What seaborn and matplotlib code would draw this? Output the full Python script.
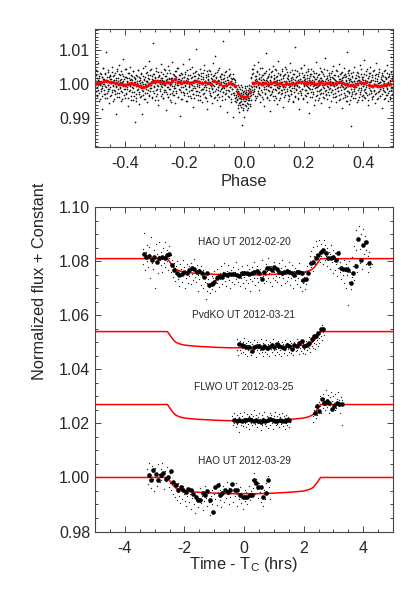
import matplotlib
matplotlib.use("Agg")
import matplotlib.pyplot as plt
import numpy as np
import pandas as pd
import seaborn as sns
from matplotlib.ticker import MultipleLocator, FixedLocator

# ---------------- data ----------------
# top panel: individual points, (phase x 1000, (flux - 1) x 1e4)
top_dots = [
(-500,14),(-499,-22),(-497,41),(-496,3),(-494,-35),(-493,18),(-492,-7),(-490,62),(-489,-15),(-487,26),
(-486,-48),(-485,9),(-483,-3),(-482,33),(-480,-19),(-479,5),(-478,-71),(-476,22),(-475,-11),(-473,47),
(-472,0),(-471,-28),(-469,15),(-468,-40),(-466,31),(-465,-6),(-464,12),(-462,95),(-461,-24),(-459,8),
(-458,37),(-457,-13),(-455,-2),(-454,21),(-452,-55),(-451,16),(-450,-9),(-448,29),(-447,4),(-445,-31),
(-444,52),(-443,-17),(-441,11),(-440,-1),(-438,24),(-437,-44),(-436,7),(-434,-20),(-433,35),(-431,-86),
(-430,13),(-429,-5),(-427,40),(-426,-26),(-424,2),(-423,19),(-422,-12),(-420,58),(-419,-37),(-417,6),
(-416,27),(-415,-8),(-413,-50),(-412,17),(-410,-3),(-409,31),(-408,-23),(-406,10),(-405,74),(-403,-14),
(-402,1),(-401,-41),(-399,23),(-398,-6),(-396,45),(-395,-29),(-394,8),(-392,-12),(-391,20),(-389,-63),
(-388,3),(-387,34),(-385,-18),(-384,12),(-382,-4),(-381,51),(-380,-33),(-378,15),(-377,-9),(-375,26),
(-374,-2),(-373,-47),(-371,38),(-370,7),(-368,-21),(-367,-110),(-366,18),(-364,-5),(-363,29),(-361,-39),
(-360,9),(-359,-16),(-357,43),(-356,-1),(-354,-27),(-353,21),(-352,-58),(-350,4),(-349,14),(-347,-11),
(-346,33),(-345,-35),(-343,-88),(-342,6),(-340,25),(-339,-19),(-338,2),(-336,-43),(-335,17),(-333,-7),
(-332,55),(-331,-24),(-329,11),(-328,-3),(-326,36),(-325,-51),(-324,8),(-322,19),(-321,-15),(-319,70),
(-318,-30),(-317,5),(-315,27),(-314,-10),(-312,44),(-311,-2),(-310,-37),(-308,16),(-307,122),(-305,-20),
(-304,9),(-303,31),(-301,-6),(-300,-45),(-298,22),(-297,3),(-296,-17),(-294,48),(-293,-28),(-291,12),
(-290,-4),(-289,37),(-287,-60),(-286,7),(-284,26),(-283,-12),(-282,1),(-280,-33),(-279,19),(-277,59),
(-276,-9),(-275,14),(-273,-41),(-272,30),(-270,-1),(-269,-22),(-268,10),(-266,41),(-265,-16),(-263,-75),
(-262,24),(-261,4),(-259,-29),(-258,15),(-256,-8),(-255,53),(-254,-36),(-252,6),(-251,20),(-249,-13),
(-248,34),(-247,-47),(-245,2),(-244,18),(-242,-24),(-241,65),(-240,-5),(-238,12),(-237,-31),(-235,27),
(-234,-10),(-233,40),(-231,-55),(-230,8),(-228,22),(-227,-18),(-226,3),(-224,47),(-223,-38),(-221,15),
(-220,-2),(-219,28),(-217,-14),(-216,-92),(-214,10),(-213,35),(-212,-21),(-210,5),(-209,-44),(-207,19),
(-206,61),(-205,-7),(-203,23),(-202,-26),(-200,9),(-199,-3),(-198,32),(-196,-49),(-195,13),(-193,-12),
(-192,42),(-191,4),(-189,-34),(-188,17),(-186,-6),(-185,76),(-184,-19),(-182,8),(-181,29),(-179,-40),
(-178,1),(-177,20),(-175,-15),(-174,51),(-172,-27),(-171,7),(-170,-66),(-168,25),(-167,-4),(-165,36),
(-164,-11),(-163,14),(-161,-30),(-160,104),(-158,2),(-157,-20),(-156,18),(-154,-45),(-153,31),(-151,-8),
(-150,11),(-149,-35),(-147,46),(-146,6),(-144,-16),(-143,24),(-142,-52),(-140,0),(-139,33),(-137,-13),
(-136,15),(-135,-25),(-133,57),(-132,-3),(-130,9),(-129,-41),(-128,21),(-126,-9),(-125,38),(-123,-71),
(-122,12),(-121,26),(-119,-18),(-118,4),(-116,43),(-115,-30),(-114,7),(-112,-2),(-111,30),(-109,-56),
(-108,17),(-107,-11),(-105,64),(-104,-23),(-102,10),(-101,-5),(-100,28),(-98,-36),(-97,85),(-95,1),
(-94,-14),(-93,19),(-91,-47),(-90,36),(-88,-7),(-87,13),(-86,-28),(-84,49),(-83,-1),(-81,-19),
(-80,22),(-79,-62),(-77,6),(-76,31),(-74,-10),(-73,-33),(-72,16),(-70,127),(-69,-22),(-67,3),
(-66,27),(-65,-44),(-63,11),(-62,-6),(-60,38),(-59,-26),(-58,-80),(-56,14),(-55,0),(-53,-17),
(-52,24),(-51,-38),(-49,45),(-48,-9),(-46,8),(-45,-29),(-44,19),(-42,-51),(-41,5),(-39,-13),
(-38,30),(-37,-97),(-35,2),(-34,-24),(-32,17),(-31,-40),(-30,-8),
(-28,-30),(-27,-5),(-26,-52),(-24,-21),(-23,-44),(-22,-12),(-21,-68),(-20,-33),(-19,-2),(-18,-55),
(-17,-27),(-16,-81),(-15,-39),(-14,-14),(-13,-60),(-12,-31),(-11,-3),(-10,-48),(-9,-24),(-8,-118),
(-7,-36),(-6,-9),(-5,-57),(-4,-29),(-3,-42),(-2,-70),(-1,-18),(0,-35),(1,-95),(2,-26),(3,-50),(4,-11),
(5,-39),(6,-63),(7,-22),(8,-44),(9,-6),(10,-31),(11,-76),(12,-17),(13,-41),(14,-58),(15,-28),(16,-1),
(17,-47),(18,-20),(19,-35),(20,-64),(21,-13),(22,-30),(23,-4),
(25,21),(26,-15),(27,44),(28,6),(30,-27),(31,33),(32,-4),(34,58),(35,-20),(36,13),
(38,-45),(39,25),(40,-8),(42,39),(43,-33),(44,10),(46,-1),(47,66),(48,-24),(50,17),
(51,-11),(52,30),(54,-52),(55,4),(56,21),(58,-17),(59,47),(60,-36),(62,8),(63,-3),
(64,28),(66,-62),(67,14),(68,-9),(70,35),(71,-27),(72,1),(74,92),(75,-14),(76,19),
(78,-41),(79,7),(80,26),(82,-5),(83,-19),(84,44),(86,-30),(87,12),(88,-78),(90,22),
(91,-7),(92,37),(94,-23),(95,3),(96,55),(98,-12),(99,-46),(100,16),(102,29),(103,-2),
(104,-33),(106,10),(107,-15),(108,41),(110,-58),(111,6),(112,24),(114,-10),(115,70),(116,-21),
(118,13),(119,-4),(120,32),(122,-39),(123,8),(124,-17),(126,45),(127,1),(128,-26),(130,18),
(131,-9),(132,-66),(134,27),(135,-13),(136,4),(138,50),(139,-31),(140,11),(142,-2),(143,36),
(144,-20),(146,-48),(147,15),(148,25),(150,-7),(151,-35),(152,9),(154,63),(155,-16),(156,2),
(158,-28),(159,20),(160,-11),(162,42),(163,-53),(164,7),(166,30),(167,-4),(168,-22),(170,14),
(171,109),(172,-37),(174,5),(175,23),(176,-14),(178,-1),(179,38),(180,-44),(182,12),(183,-8),
(184,27),(186,-73),(187,17),(188,-19),(190,3),(191,48),(192,-25),(194,9),(195,-12),(196,34),
(198,-40),(199,6),(200,21),(202,-6),(203,57),(204,-30),(206,15),(207,-2),(208,-17),(210,29),
(211,-51),(212,10),(214,40),(215,-9),(216,-26),(218,18),(219,-85),(220,4),(222,31),(223,-14),
(224,1),(226,44),(227,-36),(228,13),(230,-5),(231,25),(232,-21),(234,-60),(235,8),(236,35),
(238,-11),(239,2),(240,67),(242,-33),(243,16),(244,-7),(246,23),(247,-45),(248,10),(250,-18),
(251,30),(252,-1),(254,49),(255,-29),(256,6),(258,-13),(259,20),(260,-56),(262,14),(263,37),
(264,-8),(266,-24),(267,3),(268,26),(270,-39),(271,11),(272,79),(274,-16),(275,5),(276,-31),
(278,19),(279,-4),(280,42),(282,-22),(283,8),(284,-67),(286,28),(287,-10),(288,15),(290,-2),
(291,33),(292,-48),(294,7),(295,22),(296,-15),(298,54),(299,-27),(300,3),(302,-6),(303,17),
(304,-37),(306,29),(307,-12),(308,10),(310,-53),(311,39),(312,0),(314,-20),(315,24),(316,-9),
(318,61),(319,-32),(320,6),(322,15),(323,-43),(324,-3),(326,34),(327,-17),(328,12),(330,-70),
(331,21),(332,-7),(334,47),(335,-25),(336,4),(338,-38),(339,31),(340,-11),(341,9),(342,-50),
(343,26),(344,-19),(345,95),(346,2),(347,-34),(348,18),(349,-6),(350,40),(351,-58),(352,13),
(353,-23),(354,29),(355,-1),(356,-45),(357,16),(358,-14),(359,35),(360,-122),(361,7),(362,-29),
(364,22),(365,-4),(366,-41),(368,11),(369,50),(370,-18),(372,3),(373,-27),(375,20),(376,-8),
(378,37),(379,-52),(380,9),(382,-15),(383,26),(384,-3),(386,-36),(387,14),(388,58),(390,-21),
(391,5),(392,-10),(394,31),(395,-47),(396,17),(398,-6),(399,23),(400,-30),(402,73),(403,1),
(404,-17),(406,12),(407,-39),(408,27),(410,-2),(411,-24),(412,44),(414,6),(415,-61),(416,18),
(418,-11),(419,33),(420,-28),(422,8),(423,-4),(424,51),(426,-19),(427,14),(428,-43),(430,22),
(431,-7),(432,-33),(434,39),(435,2),(436,-15),(438,27),(439,-56),(440,10),(442,-1),(443,64),
(444,-26),(446,16),(447,-9),(448,-40),(450,30),(451,4),(452,-20),(454,46),(455,-12),(456,7),
(458,-35),(459,21),(460,-3),(462,-68),(463,13),(464,35),(466,-16),(467,1),(468,25),(470,-44),
(471,9),(472,-23),(474,41),(475,-6),(476,18),(478,-30),(479,57),(480,-11),(482,5),(483,-49),
(484,23),(486,-2),(487,32),(488,-19),(490,11),(491,-37),(492,80),(494,-8),(495,15),(496,-27),
(498,26),(499,-14),(500,3),
]
# top panel: more individual points, (phase x 10000, (flux - 1) x 1e4)
top_dots_fine = [
(-4995,-8),(-4981,27),(-4963,-19),(-4948,6),(-4934,39),(-4917,-31),(-4903,12),(-4886,-3),(-4871,-24),(-4855,18),
(-4842,-44),(-4826,4),(-4811,30),(-4794,-12),(-4780,21),(-4763,-6),(-4749,-35),(-4732,15),(-4718,49),(-4701,-17),
(-4688,2),(-4672,-27),(-4657,34),(-4640,-9),(-4626,11),(-4609,-40),(-4595,23),(-4578,-1),(-4564,-20),(-4547,42),
(-4533,8),(-4516,-14),(-4502,26),(-4485,-33),(-4471,5),(-4454,17),(-4440,-22),(-4423,36),(-4409,-4),(-4392,-48),
(-4378,13),(-4361,29),(-4347,-16),(-4330,1),(-4316,-29),(-4299,20),(-4285,-7),(-4268,44),(-4254,-37),(-4237,9),
(-4223,-2),(-4206,31),(-4192,-25),(-4175,14),(-4161,-11),(-4144,3),(-4130,38),(-4113,-19),(-4099,7),(-4082,-42),
(-4068,24),(-4051,-5),(-4037,16),(-4020,-30),(-4006,46),(-3989,-13),(-3975,2),(-3958,21),(-3944,-26),(-3927,10),
(-3913,-8),(-3896,33),(-3882,-39),(-3865,5),(-3851,18),(-3834,-15),(-3820,-3),(-3803,27),(-3789,-46),(-3772,12),
(-3758,-21),(-3741,39),(-3727,0),(-3710,-10),(-3696,22),(-3679,-34),(-3665,8),(-3648,15),(-3634,-28),(-3617,-50),
(-3603,3),(-3586,26),(-3572,-12),(-3555,41),(-3541,-6),(-3524,-23),(-3510,11),(-3493,-38),(-3479,19),(-3462,-2),
(-3448,30),(-3431,-17),(-3417,6),(-3400,-31),(-3386,48),(-3369,-9),(-3355,14),(-3338,-44),(-3324,1),(-3307,23),
(-3293,-14),(-3276,35),(-3262,-26),(-3245,9),(-3231,-4),(-3214,28),(-3200,-35),(-3183,16),(-3169,-1),(-3152,43),
(-3138,-20),(-3121,7),(-3107,-10),(-3090,25),(-3076,-41),(-3059,13),(-3045,32),(-3028,-7),(-3014,-24),(-2997,18),
(-2983,3),(-2966,-33),(-2952,40),(-2935,-12),(-2921,10),(-2904,-2),(-2890,22),(-2873,-47),(-2859,6),(-2842,29),
(-2828,-18),(-2811,14),(-2797,-5),(-2780,37),(-2766,-29),(-2749,2),(-2735,19),(-2718,-39),(-2704,9),(-2687,45),
(-2673,-15),(-2656,-1),(-2642,26),(-2625,-22),(-2611,12),(-2594,-8),(-2580,34),(-2563,-36),(-2549,5),(-2532,17),
(-2518,-13),(-2501,41),(-2487,-3),(-2470,-27),(-2456,15),(-2439,-51),(-2425,20),(-2408,8),(-2394,-18),(-2377,30),
(-2363,-6),(-2346,-32),(-2332,24),(-2315,1),(-2301,-11),(-2284,38),(-2270,-24),(-2253,11),(-2239,-2),(-2222,47),
(-2208,-37),(-2191,7),(-2177,16),(-2160,-16),(-2146,28),(-2129,-8),(-2115,-43),(-2098,13),(-2084,3),(-2067,31),
(-2053,-21),(-2036,9),(-2022,-30),(-2005,22),(-1991,-4),(-1974,36),(-1960,-14),(-1943,4),(-1929,-26),(-1912,19),
(-1898,-48),(-1881,10),(-1867,27),(-1850,-9),(-1836,2),(-1819,-34),(-1805,44),(-1788,-17),(-1774,8),(-1757,21),
(-1743,-2),(-1726,-28),(-1712,33),(-1695,-11),(-1681,14),(-1664,-40),(-1650,6),(-1633,25),(-1619,-19),(-1602,39),
(-1588,-5),(-1571,12),(-1557,-31),(-1540,18),(-1526,-1),(-1509,29),(-1495,-23),(-1478,3),(-1464,-45),(-1447,16),
(-1433,34),(-1416,-12),(-1402,7),(-1385,-27),(-1371,23),(-1354,-7),(-1340,41),(-1323,-36),(-1309,10),(-1292,-3),
(-1278,27),(-1261,-16),(-1247,2),(-1230,-50),(-1216,15),(-1199,31),(-1185,-10),(-1168,6),(-1154,-25),(-1137,38),
(-1123,-4),(-1106,19),(-1092,-33),(-1075,9),(-1061,-14),(-1044,26),(-1030,-2),(-1013,-41),(-999,13),(-982,35),
(-968,-20),(-951,4),(-937,21),(-920,-30),(-906,8),(-889,-7),(-875,43),(-858,-17),(-844,11),(-827,-37),
(-813,1),(-796,24),(-782,-12),(-765,16),(-751,-46),(-734,30),(-720,-5),(-703,7),(-689,-23),(-672,18),
(-658,-10),(-641,36),(-627,-29),(-610,3),(-596,-15),(-579,22),(-565,-1),(-548,-35),(-534,12),(-517,28),
(-503,-19),(-486,5),(-472,-8),(-455,32),(-441,-42),(-424,9),(-410,17),(-393,-13),(-379,-26),(-362,20),
(-348,-3),(-331,-31),(-317,14),(-300,-48),(-286,6),(-269,-20),
(-255,-38),(-241,-12),(-227,-46),(-213,-27),(-199,-60),(-185,-20),(-171,-41),(-157,-8),(-143,-53),(-129,-30),
(-115,-66),(-101,-25),(-87,-44),(-73,-15),(-59,-58),(-45,-33),(-31,-76),(-17,-22),(-3,-49),(11,-36),
(25,-4),(39,-61),(53,-28),(67,-43),(81,-17),(95,-55),(109,-34),(123,-70),(137,-24),(151,-47),
(165,-11),(179,-39),(193,-57),(207,-26),(221,-45),
(245,18),(259,-9),(274,31),(288,-22),(303,7),(317,44),(332,-14),(346,2),(361,-33),(375,24),
(390,-5),(404,15),(419,-40),(433,10),(448,36),(462,-18),(477,1),(491,-27),(506,20),(520,-8),
(535,47),(549,-30),(564,12),(578,-3),(593,27),(607,-21),(622,6),(636,-44),(651,17),(665,33),
(680,-12),(694,3),(709,-25),(723,40),(738,-6),(752,14),(767,-36),(781,9),(796,22),(810,-16),
(825,-1),(839,30),(854,-47),(868,11),(883,-9),(897,25),(912,-28),(926,4),(941,38),(955,-19),
(970,8),(984,-33),(999,19),(1013,-2),(1028,45),(1042,-14),(1057,6),(1071,-39),(1086,23),(1100,-7),
(1115,13),(1129,-24),(1144,34),(1158,-11),(1173,1),(1187,-45),(1202,28),(1216,-4),(1231,16),(1245,-29),
(1260,39),(1274,-16),(1289,7),(1303,-2),(1318,24),(1332,-37),(1347,10),(1361,-9),(1376,31),(1390,-22),
(1405,4),(1419,46),(1434,-13),(1448,18),(1463,-31),(1477,2),(1492,27),(1506,-42),(1521,9),(1535,-6),
(1550,36),(1564,-19),(1579,12),(1593,-27),(1608,21),(1622,-1),(1637,-48),(1651,15),(1666,30),(1680,-10),
(1695,5),(1709,-34),(1724,42),(1738,-15),(1753,8),(1767,-4),(1782,26),(1796,-25),(1811,11),(1825,-39),
(1840,33),(1854,-7),(1869,17),(1883,-20),(1898,3),(1912,48),(1927,-30),(1941,6),(1956,-12),(1970,22),
(1985,-44),(1999,14),(2014,-2),(2028,29),(2043,-17),(2057,9),(2072,-33),(2086,37),(2101,-5),(2115,19),
(2130,-26),(2144,1),(2159,44),(2173,-11),(2188,12),(2202,-38),(2217,25),(2231,-3),(2246,-21),(2260,31),
(2275,7),(2289,-14),(2304,40),(2318,-29),(2333,10),(2347,-1),(2362,23),(2376,-47),(2391,16),(2405,-8),
(2420,35),(2434,-18),(2449,4),(2463,-31),(2478,27),(2492,-6),(2507,13),(2521,-41),(2536,20),(2550,2),
(2565,-15),(2579,38),(2594,-24),(2608,8),(2623,-3),(2637,30),(2652,-36),(2666,11),(2681,-10),(2695,46),
(2710,-20),(2724,5),(2739,17),(2753,-28),(2768,1),(2782,24),(2797,-44),(2811,14),(2826,-7),(2840,33),
(2855,-13),(2869,-32),(2884,9),(2898,21),(2913,-2),(2927,-23),(2942,39),(2956,-16),(2971,6),(2985,-37),
(3000,18),(3014,-5),(3029,28),(3043,-25),(3058,12),(3072,-1),(3087,43),(3101,-34),(3116,7),(3130,-11),
(3145,25),(3159,-19),(3174,3),(3188,-46),(3203,15),(3217,31),(3232,-8),(3246,10),(3261,-27),(3275,36),
(3290,-4),(3304,19),(3319,-39),(3333,8),(3348,-14),(3362,27),(3377,-2),(3391,-30),(3406,22),(3420,-9),
(3435,13),(3449,-50),(3464,4),(3478,33),(3493,-18),(3507,6),(3522,-26),(3536,41),(3551,-6),(3565,15),
(3580,-35),(3594,10),(3609,-3),(3623,25),(3638,-22),(3652,2),(3667,37),(3681,-13),(3696,9),(3710,-40),
(3725,18),(3739,-7),(3754,29),(3768,-24),(3783,4),(3797,-1),(3812,34),(3826,-45),(3841,12),(3855,-10),
(3870,21),(3884,-28),(3899,7),(3913,44),(3928,-15),(3942,1),(3957,-33),(3971,23),(3986,-5),(4000,14),
(4015,-38),(4029,30),(4044,-12),(4058,3),(4073,-21),(4087,39),(4102,-8),(4116,11),(4131,-30),(4145,19),
(4160,-2),(4174,-47),(4189,26),(4203,6),(4218,-16),(4232,35),(4247,-25),(4261,9),(4276,-4),(4290,28),
(4305,-36),(4319,13),(4334,-9),(4348,42),(4363,-19),(4377,2),(4392,-29),(4406,20),(4421,-6),(4435,32),
(4450,-43),(4464,10),(4479,-1),(4493,24),(4508,-23),(4522,5),(4537,37),(4551,-14),(4566,8),(4580,-34),
(4595,17),(4609,-3),(4624,29),(4638,-27),(4653,11),(4667,-10),(4682,40),(4696,-20),(4711,4),(4725,-39),
(4740,21),(4754,-5),(4769,15),(4783,-31),(4798,33),(4812,-12),(4827,6),(4841,-24),(4856,26),(4870,-2),
(4885,-44),(4899,13),(4914,3),(4928,-17),(4943,36),(4957,-8),(4972,19),(4986,-28),
]

# top panel: binned curve (red), (phase x 100, (flux - 1) x 1e4)
top_bins = [
(-50,0),(-49,3),(-48,8),(-47,10),(-46,9),(-45,6),(-44,8),(-43,5),(-42,2),(-41,0),
(-40,-2),(-39,0),(-38,3),(-37,1),(-36,-3),(-35,-6),(-34,-8),(-33,-5),(-32,2),(-31,8),
(-30,11),(-29,9),(-28,6),(-27,4),(-26,7),(-25,5),(-24,9),(-23,15),(-22,6),(-21,3),
(-20,6),(-19,8),(-18,4),(-17,7),(-16,10),(-15,6),(-14,3),(-13,8),(-12,5),(-11,2),
(-10,9),(-9,6),(-8,1),(-7,-4),(-6,-1),(-5,4),(-4,0),(-3,-6),(-2,-25),(-1,-35),
(0,-36),(1,-35),(2,-22),(3,5),(4,8),(5,4),(6,2),(7,3),(8,1),(9,4),
(10,6),(11,2),(12,3),(13,-1),(14,4),(15,2),(16,5),(17,1),(18,6),(19,8),
(20,3),(21,5),(22,7),(23,3),(24,0),(25,4),(26,6),(27,2),(28,5),(29,3),
(30,1),(31,5),(32,8),(33,4),(34,0),(35,-3),(36,-1),(37,-5),(38,2),(39,7),
(40,3),(41,6),(42,-2),(43,-4),(44,-2),(45,-6),(46,-4),(47,-3),(48,0),(49,2),(50,14),
]

# bottom panel: (time x 100 [hrs], (flux - 1) x 1e4)
hao0220_bins = [
(-336,827),(-329,817),(-319,820),(-310,805),(-302,817),(-293,799),(-284,811),(-276,817),(-266,811),(-260,823),(-251,827),
(-243,786),(-235,768),(-226,755),(-218,749),(-209,752),(-200,762),(-192,758),(-183,768),(-176,774),(-167,770),
(-159,762),(-150,764),(-142,755),(-133,743),(-125,758),(-116,712),(-109,716),(-100,724),(-92,737),(-83,745),
(-75,743),(-66,752),(-58,749),(-49,753),(-41,752),(-32,752),(-25,749),(-16,747),(-8,755),(1,755),(9,758),
(18,752),(26,755),(35,762),(43,764),(51,755),(59,733),(68,762),(76,776),(85,774),(93,768),(102,778),(110,770),
(119,762),(126,755),(135,759),(143,764),(152,762),(160,758),(169,749),(177,759),(186,762),(194,755),(199,731),
(208,733),(216,758),(225,792),(233,798),(242,811),(249,823),(257,836),(266,842),(274,829),(283,811),(292,811),
(300,817),(309,805),(317,832),(326,774),(333,770),(342,770),(350,768),(359,721),(367,755),(376,783),(384,881),
(393,805),(400,860),(409,872),(421,795),
]
hao0220_dots = [
(-340,845),(-338,790),(-335,905),(-333,812),(-331,768),(-329,834),(-327,861),(-325,801),(-322,779),(-320,826),
(-318,852),(-316,740),(-313,808),(-311,889),(-309,795),(-307,821),(-304,770),(-302,842),(-300,813),(-298,700),
(-295,866),(-293,792),(-291,828),(-289,757),(-286,818),(-284,873),(-282,804),(-280,785),(-277,836),(-275,760),
(-273,811),(-271,848),(-268,795),(-266,870),(-264,779),(-262,825),(-259,802),(-257,841),(-255,768),(-253,814),
(-251,855),(-248,792),(-246,822),(-244,760),(-242,805),(-240,781),(-237,742),(-235,795),(-233,770),(-231,728),
(-228,784),(-226,752),(-224,803),(-222,735),(-219,768),(-217,710),(-215,790),(-213,748),(-210,771),(-208,725),
(-206,806),(-204,752),(-201,778),(-199,700),(-197,762),(-195,739),(-192,790),(-190,756),(-188,720),(-186,781),
(-183,745),(-181,768),(-179,715),(-177,792),(-174,752),(-172,731),(-170,770),(-168,808),(-165,741),(-163,763),
(-161,722),(-159,785),(-156,748),(-154,690),(-152,770),(-150,735),(-147,759),(-145,712),(-143,781),(-141,744),
(-138,768),(-136,702),(-134,752),(-132,725),(-129,660),(-127,741),(-125,718),(-123,690),(-120,733),(-118,705),
(-116,756),(-114,681),(-111,722),(-109,745),(-107,698),(-105,738),(-102,712),(-100,764),(-98,730),(-96,691),
(-93,745),(-91,720),(-89,772),(-87,738),(-84,705),(-82,758),(-80,733),(-78,781),(-75,749),(-73,716),
(-71,762),(-69,740),(-66,795),(-64,728),(-62,754),(-60,709),(-57,766),(-55,742),(-53,788),(-51,731),
(-48,755),(-46,700),(-44,769),(-42,744),(-39,722),(-37,780),(-35,748),(-33,715),(-30,761),(-28,735),
(-26,798),(-24,752),(-21,725),(-19,771),(-17,744),(-15,708),(-12,762),(-10,739),(-8,783),(-6,750),
(-3,718),(-1,765),(1,741),(3,702),(6,758),(8,730),(10,786),(12,748),(15,721),(17,770),
(19,735),(21,690),(24,756),(26,778),(28,726),(30,752),(33,799),(35,740),(37,712),(39,765),
(42,738),(44,781),(46,722),(48,757),(51,695),(53,743),(55,770),(57,731),(60,762),(62,805),
(64,745),(66,718),(69,772),(71,749),(73,790),(75,728),(78,763),(80,740),(82,812),(84,756),
(87,724),(89,781),(91,752),(93,708),(96,770),(98,739),(100,796),(102,762),(105,731),(107,778),
(109,745),(111,722),(114,769),(116,793),(118,741),(120,760),(123,712),(125,775),(127,749),(129,804),
(132,738),(134,765),(136,720),(138,781),(141,752),(143,729),(145,770),(147,742),(150,798),(152,758),
(154,712),(156,766),(159,739),(161,785),(163,748),(165,700),(168,764),(170,731),(172,776),(174,745),
(177,717),(179,769),(181,738),(183,795),(186,752),(188,705),(190,763),(192,728),(195,690),(197,755),
(199,720),(201,742),(204,698),(206,762),(208,715),(210,781),(213,736),(215,760),(217,795),(219,752),
(222,820),(224,780),(226,838),(228,801),(231,765),(233,852),(235,818),(237,790),(240,874),(242,826),
(244,796),(246,858),(249,812),(251,880),(253,835),(255,798),(258,866),(260,821),(262,845),(264,790),
(267,878),(269,832),(271,805),(273,862),(276,818),(278,782),(280,850),(282,808),(285,835),(287,772),
(289,826),(291,860),(294,798),(296,815),(298,756),(300,842),(303,800),(305,768),(307,830),(309,790),
(312,745),(314,808),(316,775),(318,840),(321,762),(323,798),(325,735),(327,812),(330,778),(332,750),
(334,805),(336,720),(339,765),(341,790),(343,700),(345,748),(348,778),(350,640),(352,725),(354,800),
(357,760),(359,698),(361,742),(363,815),(366,782),(368,730),(370,855),(372,790),(375,915),(377,842),
(379,760),(381,888),(384,812),(386,930),(388,845),(390,795),(393,902),(395,858),(397,770),(399,920),
(402,875),(404,826),(406,895),(408,842),(411,790),(413,868),(415,818),(417,760),(420,835),(422,800),
(424,778),(426,812),(429,790),
]
pvdko_bins = [
(-16,494),(-8,490),(0,486),(9,484),(18,484),(26,469),(34,484),(43,488),(52,486),(59,481),(68,486),
(76,478),(85,484),(93,490),(102,484),(110,494),(119,486),(126,484),(135,481),(143,490),(152,486),
(160,474),(169,490),(177,486),(186,496),(194,506),(201,486),(210,490),(218,499),(227,511),(235,523),
(242,525),(249,536),(257,548),(264,548),
]
pvdko_dots = [
(-25,512),(-23,470),(-21,498),(-19,455),(-17,489),(-15,506),(-13,472),(-11,493),(-9,460),(-7,481),
(-5,502),(-3,466),(-1,490),(1,515),(3,476),(5,458),(7,497),(9,483),(11,449),(13,505),
(15,471),(17,488),(19,463),(21,500),(23,478),(25,452),(27,493),(29,484),(31,467),(33,509),
(35,475),(37,491),(39,446),(41,486),(43,470),(45,503),(47,479),(49,460),(51,495),(53,472),
(55,488),(57,511),(59,466),(61,482),(63,451),(65,497),(67,475),(69,490),(71,464),(73,507),
(75,480),(77,457),(79,494),(81,472),(83,486),(85,448),(87,501),(89,477),(91,493),(93,463),
(95,489),(97,512),(99,470),(101,484),(103,455),(105,499),(107,476),(109,492),(111,466),(113,504),
(115,481),(117,458),(119,496),(121,473),(123,487),(125,450),(127,502),(129,479),(131,494),(133,462),
(135,488),(137,509),(139,471),(141,483),(143,452),(145,498),(147,475),(149,491),(151,465),(153,506),
(155,482),(157,459),(159,497),(161,474),(163,489),(165,453),(167,503),(169,480),(171,495),(173,467),
(175,490),(177,514),(179,473),(181,486),(183,457),(185,501),(187,478),(189,494),(191,469),(193,510),
(195,485),(197,462),(199,499),(201,477),(203,491),(205,456),(207,505),(209,482),(211,498),(213,470),
(215,494),(217,519),(219,478),(221,491),(223,465),(225,508),(227,486),(229,503),(231,480),(233,522),
(235,499),(237,476),(239,515),(241,493),(243,530),(245,507),(247,488),(249,538),(251,517),(253,498),
(255,552),(257,524),(259,541),(261,510),(263,565),(265,537),(267,553),(269,528),
]
flwo_bins = [
(-32,212),(-24,210),(-16,214),(-8,209),(0,213),(8,212),(16,215),(24,211),(32,208),(40,213),(48,210),(56,206),
(64,211),(72,209),(80,214),(88,218),(96,213),(104,210),(112,208),(120,211),(128,209),(136,208),(144,211),(152,213),
(238,239),(246,264),(253,247),(261,289),(269,276),(277,283),(285,276),(294,255),(303,264),(311,276),(320,271),(328,271),
]
flwo_dots = [
(-40,228),(-38,195),(-36,215),(-34,240),(-32,202),(-30,221),(-28,188),(-26,209),(-24,232),(-22,199),
(-20,218),(-18,170),(-16,225),(-14,205),(-12,238),(-10,196),(-8,214),(-6,229),(-4,191),(-2,210),
(0,243),(2,203),(4,220),(6,185),(8,212),(10,234),(12,198),(14,217),(16,226),(18,180),
(20,208),(22,236),(24,201),(26,219),(28,193),(30,227),(32,211),(34,248),(36,197),(38,215),
(40,231),(42,187),(44,209),(46,224),(48,200),(50,239),(52,206),(54,218),(56,176),(58,213),
(60,230),(62,195),(64,221),(66,207),(68,244),(70,199),(72,216),(74,189),(76,228),(78,204),
(80,222),(82,183),(84,211),(86,237),(88,196),(90,219),(92,232),(94,202),(96,214),(98,178),
(100,226),(102,208),(104,242),(106,193),(108,217),(110,229),(112,199),(114,212),(116,186),(118,235),
(120,205),(122,223),(124,197),(126,215),(128,240),(130,190),(132,210),(134,227),(136,181),(138,219),
(140,203),(142,233),(144,196),(146,212),(148,225),(150,188),(152,216),(154,207),
(230,228),(232,205),(234,250),(236,238),(238,262),(240,219),(242,245),(244,272),(246,233),(248,258),
(250,281),(252,246),(254,300),(256,265),(258,238),(260,290),(262,274),(264,310),(266,256),(268,282),
(270,295),(272,248),(274,322),(276,270),(278,287),(280,262),(282,305),(284,278),(286,240),(288,296),
(290,268),(292,315),(294,255),(296,284),(298,301),(300,262),(302,276),(304,248),(306,309),(308,280),
(310,256),(312,292),(314,270),(316,318),(318,263),(320,285),(322,240),(324,298),(326,274),(328,195),
(330,288),
]
hao0329_bins = [
(-319,9),(-312,-8),(-304,27),(-295,11),(-288,-8),(-279,9),(-271,15),(-262,-4),(-254,2),(-246,25),
(-237,-16),(-229,-29),(-220,-45),(-211,-37),(-204,-47),(-195,-53),(-187,-41),(-179,-47),(-170,-62),(-161,-72),
(-153,-82),(-148,-82),(-139,-59),(-131,-66),(-123,-50),(-114,-82),(-105,-127),(-97,-37),(-88,-29),(-81,-66),
(-73,-57),(-64,-47),(-55,-53),(-47,-47),(-39,-25),(-30,-47),(-22,-47),(-13,-66),(-5,-74),(3,-72),
(11,-72),(20,-66),(28,-64),(34,-10),(40,-22),(48,-37),(56,-35),(65,-72),(73,-59),(82,-10),
]
hao0329_dots = [
(-325,30),(-322,-25),(-319,52),(-316,8),(-313,-38),(-310,41),(-307,-5),(-304,20),(-301,-50),(-298,35),
(-295,2),(-292,-30),(-289,48),(-286,14),(-283,-18),(-280,31),(-277,-8),(-274,55),(-271,10),(-268,-42),
(-265,25),(-262,-12),(-259,40),(-256,1),(-253,-35),(-250,18),(-247,-22),(-244,-48),(-241,-15),(-238,-60),
(-235,-30),(-232,-72),(-229,-40),(-226,-85),(-223,-52),(-220,-20),(-217,-68),(-214,-95),(-211,-45),(-208,-78),
(-205,-30),(-202,-60),(-199,-88),(-196,-50),(-193,-105),(-190,-70),(-187,-40),(-184,-92),(-181,-62),(-178,-115),
(-175,-75),(-172,-48),(-169,-100),(-166,-65),(-163,-130),(-160,-85),(-157,-55),(-154,-110),(-151,-78),(-148,-40),
(-145,-95),(-142,-68),(-139,-120),(-136,-52),(-133,-88),(-130,-30),(-127,-75),(-124,-105),(-121,-58),(-118,-90),
(-115,-140),(-112,-70),(-109,-45),(-106,-98),(-103,-125),(-100,-60),(-97,-80),(-94,-35),(-91,-102),(-88,-55),
(-85,-20),(-82,-85),(-79,-48),(-76,-110),(-73,-65),(-70,-30),(-67,-92),(-64,-50),(-61,-75),(-58,-15),
(-55,-60),(-52,-100),(-49,-40),(-46,-72),(-43,-25),(-40,-58),(-37,-90),(-34,-45),(-31,-68),(-28,-20),
(-25,-62),(-22,-105),(-19,-50),(-16,-80),(-13,-35),(-10,-95),(-7,-60),(-4,-118),(-1,-70),(2,-45),
(5,-88),(8,-55),(11,-100),(14,-62),(17,-30),(20,-82),(23,-50),(26,-8),(29,-40),(32,15),
(35,-25),(38,-60),(41,-5),(44,-42),(47,-75),(50,-20),(53,-55),(56,-90),(59,-30),(62,-68),
(65,-105),(68,-48),(71,-80),(74,-20),(77,-62),(80,5),(83,-35),(86,-78),
]

# transit model (hrs, depth x 1e4) and the constant added to each night
model_time = [-5.0, -2.57, -2.50, -2.43, -2.36, -2.29, -2.24, -2.15, -2.0, -1.75, -1.5, -1.0, -0.5, 0.0,
              0.5, 1.0, 1.5, 1.75, 2.0, 2.15, 2.24, 2.29, 2.36, 2.43, 2.50, 2.57, 5.0]
model_depth = [0, 0, 11, 22, 32, 39, 42, 46, 50, 53, 55, 58, 60, 60,
               60, 58, 55, 53, 50, 46, 42, 39, 32, 22, 11, 0, 0]
night_names = ["HAO UT 2012-02-20", "PvdKO UT 2012-03-21", "FLWO UT 2012-03-25", "HAO UT 2012-03-29"]
night_offsets = [1.081, 1.054, 1.027, 1.000]
night_label_y = [1.0873, 1.0601, 1.0336, 1.0060]

top_xticks = [-0.4, -0.2, 0.0, 0.2, 0.4]
top_xticklabels = ["-0.4", "-0.2", "0.0", "0.2", "0.4"]
top_yticks = [0.99, 1.00, 1.01]
top_yticklabels = ["0.99", "1.00", "1.01"]
bot_xticks = [-4, -2, 0, 2, 4]
bot_xticklabels = ["-4", "-2", "0", "2", "4"]
bot_yticks = [0.98, 1.00, 1.02, 1.04, 1.06, 1.08, 1.10]
bot_yticklabels = ["0.98", "1.00", "1.02", "1.04", "1.06", "1.08", "1.10"]

# ---------------- style ----------------
sns.set_style("ticks")
plt.rcParams["font.family"] = ["Liberation Sans", "DejaVu Sans"]
plt.rcParams["axes.unicode_minus"] = False
plt.rcParams["mathtext.fontset"] = "custom"
plt.rcParams["mathtext.rm"] = "Liberation Sans"
plt.rcParams["mathtext.it"] = "Liberation Sans:italic"

W, H = 413, 591
fig = plt.figure(figsize=(W / 100, H / 100), dpi=100)
ax1 = fig.add_axes([95 / W, 1 - 146.7 / H, 298 / W, 117.4 / H])
ax2 = fig.add_axes([95 / W, 1 - 531.5 / H, 298 / W, 324.2 / H])

def to_df(pairs, xs, ys):
    a = np.array(pairs, dtype=float)
    return pd.DataFrame({"x": a[:, 0] / xs, "y": 1.0 + a[:, 1] / ys})

# top panel
for pts, xs in ((top_dots, 1000.0), (top_dots_fine, 10000.0)):
    d = to_df(pts, xs, 1e4)
    sns.scatterplot(data=d, x="x", y="y", s=1.5, color="#111111", linewidth=0, ax=ax1, legend=False)
b = to_df(top_bins, 100.0, 1e4)
sns.scatterplot(data=b, x="x", y="y", s=7, color="#ff0000", linewidth=0, ax=ax1, legend=False, zorder=3)

# bottom panel
for dots in (hao0220_dots, pvdko_dots, flwo_dots, hao0329_dots):
    d = to_df(dots, 100.0, 1e4)
    sns.scatterplot(data=d, x="x", y="y", s=0.9, color="#222222", linewidth=0, ax=ax2, legend=False)
for off in night_offsets:
    md = pd.DataFrame({"t": model_time, "f": [off - v * 1e-4 for v in model_depth]})
    sns.lineplot(data=md, x="t", y="f", color="#ff0000", lw=1.1, ax=ax2,
                 estimator=None, sort=False, legend=False)
for bins in (hao0220_bins, pvdko_bins, flwo_bins, hao0329_bins):
    d = to_df(bins, 100.0, 1e4)
    sns.scatterplot(data=d, x="x", y="y", s=11, color="black", linewidth=0, ax=ax2, legend=False, zorder=3)
for name, ly in zip(night_names, night_label_y):
    ax2.text(0.0, ly, name, ha="center", va="center", fontsize=7.3)

# axes formatting
ax1.set_xlim(-0.5, 0.5)
ax1.set_ylim(0.9817, 1.0162)
ax1.xaxis.set_major_locator(FixedLocator(top_xticks))
ax1.set_xticklabels(top_xticklabels)
ax1.yaxis.set_major_locator(FixedLocator(top_yticks))
ax1.set_yticklabels(top_yticklabels)
ax1.xaxis.set_minor_locator(MultipleLocator(0.05))
ax1.yaxis.set_minor_locator(MultipleLocator(0.001))

ax2.set_xlim(-5, 5)
ax2.set_ylim(0.98, 1.10)
ax2.xaxis.set_major_locator(FixedLocator(bot_xticks))
ax2.set_xticklabels(bot_xticklabels)
ax2.yaxis.set_major_locator(FixedLocator(bot_yticks))
ax2.set_yticklabels(bot_yticklabels)
ax2.xaxis.set_minor_locator(MultipleLocator(0.5))
ax2.yaxis.set_minor_locator(MultipleLocator(0.005))

for ax in (ax1, ax2):
    ax.set_xlabel("")
    ax.set_ylabel("")
    for sp in ax.spines.values():
        sp.set_visible(True)
        sp.set_color("#444444")
        sp.set_linewidth(0.8)
    ax.tick_params(which="both", direction="in", top=True, right=True, color="#444444", width=0.7)
    ax.tick_params(which="major", length=4.5, labelsize=11.5)
    ax.tick_params(which="minor", length=2.2)
    ax.tick_params(axis="x", which="major", pad=6.5)
    ax.tick_params(axis="y", which="major", pad=3.5)

fig.text(244 / W, 1 - 181.7 / H, "Phase", ha="center", va="center", fontsize=11.8)
fig.text(244 / W, 1 - 565 / H, r"Time - T$_\mathrm{C}$ (hrs)", ha="center", va="center", fontsize=11.8)
fig.text(40 / W, 1 - 281 / H, "Normalized flux + Constant", ha="center", va="center",
         rotation=90, fontsize=11.8)

fig.savefig("out.png", dpi=100)
